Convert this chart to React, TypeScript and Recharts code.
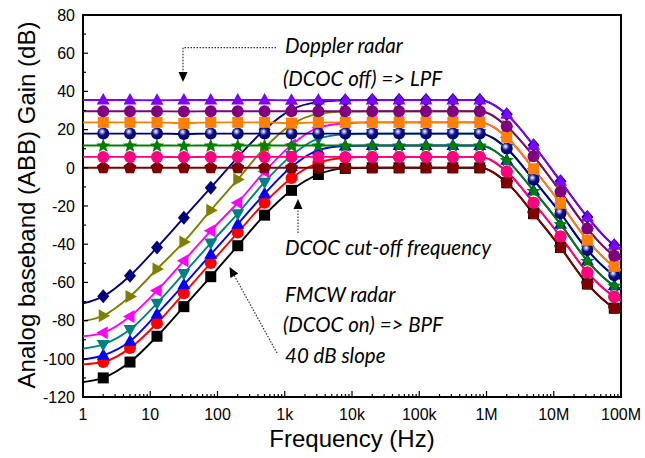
import React from 'react';
import { LineChart, Line, XAxis, YAxis, ReferenceArea } from 'recharts';

// Frequency points (Hz). First and last entries are the curve end points, drawn without markers.
const FREQ = [1, 2, 5, 12.6, 31.6, 79.4, 200, 501, 1260, 3160, 7940, 20000, 50100, 126000, 316000, 794000, 2000000, 5010000, 12600000, 31600000, 79400000, 100000000];

// Doppler radar mode (DCOC off): low-pass responses
const lpfViolet = [35.5, 35.5, 35.5, 35.4, 35.5, 35.5, 35.5, 35.5, 35.4, 35.5, 35.5, 35.5, 35.5, 35.5, 35.5, 35.5, 28, 11.8, -7, -25.7, -40.5, -42.5];
const lpfPurple = [29.6, 29.6, 29.6, 29.6, 29.5, 29.6, 29.6, 29.6, 29.6, 29.6, 29.6, 29.6, 29.6, 29.6, 29.6, 29.6, 21.7, 6.1, -12.5, -31.8, -46, -48];
const lpfOrange = [23.8, 23.8, 23.8, 23.8, 23.3, 23.8, 23.8, 23.8, 23.4, 23.8, 23.8, 23.8, 23.8, 23.8, 23.8, 23.8, 16, -0.5, -18.6, -37.9, -51.6, -53.5];
const lpfNavy = [17.9, 17.9, 17.9, 17.9, 17.7, 17.9, 17.9, 17.9, 17.9, 17.9, 17.9, 17.9, 17.9, 17.9, 17.9, 17.9, 10.1, -6.3, -23.8, -43, -56.3, -58.3];
const lpfGreen = [11.7, 11.7, 11.7, 11.7, 11.6, 11.7, 11.7, 11.7, 11.7, 11.7, 11.7, 11.7, 11.7, 11.7, 11.7, 11.7, 4, -12, -29.5, -48.7, -61.7, -63.5];
const lpfPink = [5.7, 5.7, 5.7, 5.7, 5.6, 5.7, 5.7, 5.7, 5.7, 5.7, 5.7, 5.7, 5.7, 5.7, 5.7, 5.7, -2, -18.3, -36, -54.8, -67.5, -69.5];
const lpfWine = [0, 0, 0, 0, 0, 0, 0, 0, 0, 0, 0, 0, 0, 0, 0, 0, -7.8, -24, -41.7, -60.8, -73.5, -75.5];

// FMCW radar mode (DCOC on): band-pass responses
const bpfNavy = [-71, -67.3, -56.5, -41.7, -26.1, -10.4, 5.5, 20, 30.5, 34.4, 35.3, 35.5, 35.5, 35.5, 35.5, 35.5, 28, 11.8, -7, -25.7, -40.5, -42.5];
const bpfOlive = [-80.3, -77.4, -67.4, -53, -38.8, -22.2, -6.1, 10.4, 22.6, 28.2, 29.4, 29.6, 29.6, 29.6, 29.6, 29.6, 21.7, 6.1, -12.5, -31.8, -46, -48];
const bpfMagenta = [-88.2, -86.4, -77.9, -64.3, -48.7, -33, -18.3, -2, 12, 21, 23.3, 23.8, 23.8, 23.8, 23.8, 23.8, 16, -0.5, -18.6, -37.9, -51.6, -53.5];
const bpfTeal = [-94.7, -92.5, -84.7, -70.9, -55.3, -39.4, -24, -7.5, 6.5, 15.3, 17.5, 17.9, 17.9, 17.9, 17.9, 17.9, 10.1, -6.3, -23.8, -43, -56.3, -58.3];
const bpfBlue = [-100.3, -98.2, -90.8, -76.5, -61.2, -45.3, -29.5, -13.6, 0.5, 9.3, 11.4, 11.7, 11.7, 11.7, 11.7, 11.7, 4, -12, -29.5, -48.7, -61.7, -63.5];
const bpfRed = [-102.9, -101.7, -94.4, -81.4, -65.7, -49.8, -33.9, -18.3, -5.3, 2.6, 5.3, 5.7, 5.7, 5.7, 5.7, 5.7, -2, -18.3, -36, -54.8, -67.5, -69.5];
const bpfBlack = [-112.2, -110, -101.7, -88.2, -72.7, -57, -40.8, -24.8, -11.8, -3.5, -0.3, 0, 0, 0, 0, 0, -7.8, -24, -41.7, -60.8, -73.5, -75.5];

// Axis ticks
const X_MAJOR = [1, 10, 100, 1000, 10000, 100000, 1000000, 10000000, 100000000];
const X_LABELS = ['1', '10', '100', '1k', '10k', '100k', '1M', '10M', '100M'];
const Y_MAJOR = [-120, -100, -80, -60, -40, -20, 0, 20, 40, 60, 80];
const Y_MINOR = [-110, -90, -70, -50, -30, -10, 10, 30, 50, 70];

const X_MINOR = X_MAJOR.slice(0, -1).flatMap((d) => [2, 3, 4, 5, 6, 7, 8, 9].map((m) => m * d));
const X_TICKS = [...X_MAJOR, ...X_MINOR].sort((a, b) => a - b);
const Y_TICKS = [...Y_MAJOR, ...Y_MINOR].sort((a, b) => a - b);

type Shape = 'triUp' | 'triDown' | 'triLeft' | 'triRight' | 'square' | 'circle' | 'ball' | 'diamond' | 'star' | 'pentagon';

interface Series { key: string; values: number[]; color: string; shape: Shape; }

const bpfSeries: Series[] = [
  { key: 'bpfBlack', values: bpfBlack, color: '#000000', shape: 'square' },
  { key: 'bpfRed', values: bpfRed, color: '#FF0000', shape: 'circle' },
  { key: 'bpfBlue', values: bpfBlue, color: '#0000FF', shape: 'triUp' },
  { key: 'bpfTeal', values: bpfTeal, color: '#008080', shape: 'triDown' },
  { key: 'bpfMagenta', values: bpfMagenta, color: '#FF00FF', shape: 'triLeft' },
  { key: 'bpfOlive', values: bpfOlive, color: '#808000', shape: 'triRight' },
  { key: 'bpfNavy', values: bpfNavy, color: '#000080', shape: 'diamond' },
];

const lpfSeries: Series[] = [
  { key: 'lpfWine', values: lpfWine, color: '#800000', shape: 'pentagon' },
  { key: 'lpfPink', values: lpfPink, color: '#FF0080', shape: 'circle' },
  { key: 'lpfGreen', values: lpfGreen, color: '#008000', shape: 'star' },
  { key: 'lpfNavy', values: lpfNavy, color: '#000080', shape: 'ball' },
  { key: 'lpfOrange', values: lpfOrange, color: '#FF8000', shape: 'square' },
  { key: 'lpfPurple', values: lpfPurple, color: '#800080', shape: 'circle' },
  { key: 'lpfViolet', values: lpfViolet, color: '#8000FF', shape: 'triUp' },
];

const allSeries = [...bpfSeries, ...lpfSeries];

const rows = FREQ.map((f, i) => {
  const row: Record<string, number> = { f };
  allSeries.forEach((s) => { row[s.key] = s.values[i]; });
  return row;
});

const AXIS_FONT = '"Liberation Sans", Arial, sans-serif';
const NOTE_FONT = 'Lato, "Open Sans", sans-serif';

function polygonPoints(cx: number, cy: number, n: number, rOuter: number, rInner?: number) {
  const pts: string[] = [];
  const total = rInner ? n * 2 : n;
  for (let k = 0; k < total; k++) {
    const r = rInner && k % 2 === 1 ? rInner : rOuter;
    const a = -Math.PI / 2 + (k * 2 * Math.PI) / total;
    pts.push(`${cx + r * Math.cos(a)},${cy + r * Math.sin(a)}`);
  }
  return pts.join(' ');
}

function Marker({ cx, cy, shape, color }: { cx: number; cy: number; shape: Shape; color: string }) {
  switch (shape) {
    case 'triUp':
      return <polygon points={`${cx},${cy - 7} ${cx + 6.5},${cy + 4.5} ${cx - 6.5},${cy + 4.5}`} fill={color} />;
    case 'triDown':
      return <polygon points={`${cx},${cy + 7} ${cx + 6.5},${cy - 4.5} ${cx - 6.5},${cy - 4.5}`} fill={color} />;
    case 'triLeft':
      return <polygon points={`${cx - 7},${cy} ${cx + 4.5},${cy - 6.5} ${cx + 4.5},${cy + 6.5}`} fill={color} />;
    case 'triRight':
      return <polygon points={`${cx + 7},${cy} ${cx - 4.5},${cy - 6.5} ${cx - 4.5},${cy + 6.5}`} fill={color} />;
    case 'square':
      return <rect x={cx - 5.5} y={cy - 5.5} width={11} height={11} fill={color} />;
    case 'circle':
      return <circle cx={cx} cy={cy} r={6} fill={color} />;
    case 'ball':
      return <circle cx={cx} cy={cy} r={6} fill="url(#ballShade)" />;
    case 'diamond':
      return <polygon points={`${cx},${cy - 7} ${cx + 6},${cy} ${cx},${cy + 7} ${cx - 6},${cy}`} fill={color} />;
    case 'star':
      return <polygon points={polygonPoints(cx, cy + 0.5, 5, 7.5, 3.2)} fill={color} />;
    case 'pentagon':
      return <polygon points={polygonPoints(cx, cy, 5, 6.8)} fill={color} />;
    default:
      return null;
  }
}

const makeDot = (s: Series) => (p: any) => {
  const last = FREQ.length - 1;
  if (p.index === 0 || p.index === last || p.cx == null || p.cy == null) {
    return <g key={`${s.key}-${p.index}`} />;
  }
  return (
    <g key={`${s.key}-${p.index}`}>
      <Marker cx={p.cx} cy={p.cy} shape={s.shape} color={s.color} />
    </g>
  );
};

const XTick = (props: any) => {
  const { x, y, payload } = props;
  const idx = X_MAJOR.indexOf(payload.value);
  const major = idx >= 0;
  return (
    <g>
      <line x1={x} x2={x} y1={y} y2={y - (major ? 6 : 3)} stroke="#000" strokeWidth={1.2} />
      {major && (
        <text x={x} y={y + 23} textAnchor="middle" fontFamily={AXIS_FONT} fontSize={16} fill="#000">
          {X_LABELS[idx]}
        </text>
      )}
    </g>
  );
};

const YTick = (props: any) => {
  const { x, y, payload } = props;
  const major = Y_MAJOR.includes(payload.value);
  return (
    <g>
      <line x1={x} x2={x + (major ? 5 : 3)} y1={y} y2={y} stroke="#000" strokeWidth={1.2} />
      {major && (
        <text x={x - 8} y={y} dy="0.36em" textAnchor="end" fontFamily={AXIS_FONT} fontSize={16} fill="#000">
          {payload.value}
        </text>
      )}
    </g>
  );
};

function Arrowhead({ tipX, tipY, dirX, dirY }: { tipX: number; tipY: number; dirX: number; dirY: number }) {
  const len = Math.hypot(dirX, dirY);
  const ux = dirX / len;
  const uy = dirY / len;
  const bx = tipX - ux * 10;
  const by = tipY - uy * 10;
  const px = -uy * 4.5;
  const py = ux * 4.5;
  return <polygon points={`${tipX},${tipY} ${bx + px},${by + py} ${bx - px},${by - py}`} fill="#000" />;
}

export default function App() {
  return (
    <div style={{ position: 'absolute', left: 0, top: 0, width: 645, height: 458, background: '#fff' }}>
      <LineChart width={645} height={458} data={rows} margin={{ top: 15, right: 24, bottom: 0, left: 23 }}>
        <XAxis
          dataKey="f"
          type="number"
          scale="log"
          domain={[1, 100000000]}
          ticks={X_TICKS}
          interval={0}
          tickSize={0}
          tickMargin={0}
          axisLine={false}
          tick={<XTick />}
          height={61}
          allowDataOverflow
        />
        <YAxis
          type="number"
          domain={[-120, 80]}
          ticks={Y_TICKS}
          interval={0}
          tickSize={0}
          tickMargin={0}
          axisLine={false}
          tick={<YTick />}
          width={60}
          allowDataOverflow
        />
        {allSeries.map((s) => (
          <Line
            key={s.key}
            dataKey={s.key}
            type="monotone"
            stroke={s.color}
            strokeWidth={1.9}
            dot={makeDot(s)}
            activeDot={false}
            isAnimationActive={false}
          />
        ))}
        <ReferenceArea x1={1} x2={100000000} y1={-120} y2={80} fill="none" stroke="#000" strokeWidth={2} ifOverflow="visible" />
      </LineChart>
      <svg width={645} height={458} style={{ position: 'absolute', left: 0, top: 0, pointerEvents: 'none' }}>
        <defs>
          <radialGradient id="ballShade" cx="0.4" cy="0.36" r="0.6" fx="0.4" fy="0.32">
            <stop offset="0" stopColor="#ffffff" />
            <stop offset="0.22" stopColor="#9a9ad0" />
            <stop offset="0.5" stopColor="#10108c" />
            <stop offset="1" stopColor="#000070" />
          </radialGradient>
        </defs>

        {/* axis titles */}
        <text x={352} y={447} textAnchor="middle" fontFamily={AXIS_FONT} fontSize={24} fill="#000">
          Frequency (Hz)
        </text>
        <text transform="translate(35,205) rotate(-90)" textAnchor="middle" fontFamily={AXIS_FONT} fontSize={24} fill="#000">
          Analog baseband (ABB) Gain (dB)
        </text>

        {/* mode notes */}
        <g fontFamily={NOTE_FONT} fontStyle="italic" fontSize={20.5} fill="#000">
          <text x={285} y={53}>Doppler radar</text>
          <text x={283} y={86}>(DCOC off) =&gt; LPF</text>
          <text x={285} y={255}>DCOC cut-off frequency</text>
          <text x={285} y={302}>FMCW radar</text>
          <text x={283} y={332}>(DCOC on) =&gt; BPF</text>
          <text x={285} y={363}>40 dB slope</text>
        </g>

        <g stroke="#333" strokeWidth={1.2} strokeDasharray="1.5 1.5" fill="none">
          <polyline points="276,47.7 183,47.7 183,73" />
          <line x1={298} y1={233} x2={298} y2={208} />
          <line x1={277} y1={353} x2={234} y2={275} />
        </g>
        <Arrowhead tipX={183} tipY={82} dirX={0} dirY={1} />
        <Arrowhead tipX={298} tipY={199} dirX={0} dirY={-1} />
        <Arrowhead tipX={229.5} tipY={267} dirX={-43} dirY={-78} />
      </svg>
    </div>
  );
}
